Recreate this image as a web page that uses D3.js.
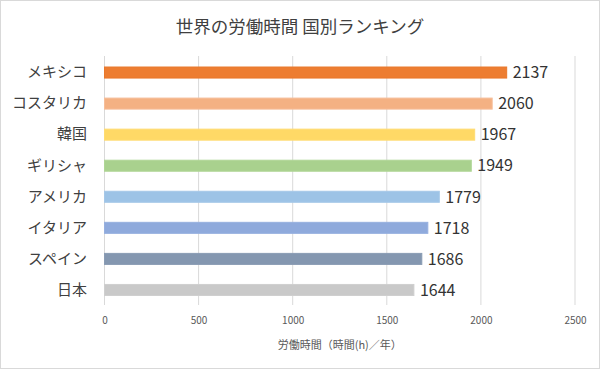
<!DOCTYPE html>
<html><head><meta charset="utf-8">
<script src="https://cdn.jsdelivr.net/npm/d3@7"></script>
<style>
body{margin:0;background:#fff;}
svg{display:block;font-family:"Noto Sans CJK JP","Noto Sans",sans-serif;}
</style></head>
<body><svg id="c" width="600" height="369"></svg>
<script>
const categories = ["メキシコ","コスタリカ","韓国","ギリシャ","アメリカ","イタリア","スペイン","日本"];
const values = [2137, 2060, 1967, 1949, 1779, 1718, 1686, 1644];
const colors = ["#ED7D31","#F4B183","#FFD966","#A9D18E","#9DC3E6","#8FAADC","#8497B0","#C9C9C9"];
const strokes = ["#E9782B","#F6BE9A","#FFDC72","#B0D697","#A6C8E8","#97B0DF","#8A9CB4","#CFCFCF"];
const xTicks = [0, 500, 1000, 1500, 2000, 2500];
const title = "世界の労働時間 国別ランキング";
const xTitle = "労働時間（時間(h)／年）";

const svg = d3.select("#c");
svg.append("rect").attr("x",0.5).attr("y",0.5).attr("width",599).attr("height",368)
  .attr("fill","#fff").attr("stroke","#D9D9D9");

const x = d3.scaleLinear().domain([0,2500]).range([104.5,575]);
const y = d3.scaleBand().domain(categories).range([57,305.5]).paddingInner(0.645).paddingOuter(0.3225);

svg.append("g").selectAll("line").data(xTicks).join("line")
  .attr("x1",d=>x(d)).attr("x2",d=>x(d)).attr("y1",56).attr("y2",305)
  .attr("stroke","#D9D9D9").attr("stroke-width",1);

const xa = svg.append("g").attr("transform","translate(0,305)")
  .call(d3.axisBottom(x).tickValues(xTicks).tickSize(0).tickPadding(12).tickFormat(d3.format("d")));
xa.select(".domain").remove();
xa.selectAll("text").attr("fill","#595959").attr("font-size",10).attr("font-family","'Noto Sans CJK JP',sans-serif");

const ya = svg.append("g").attr("transform","translate(89,0)")
  .call(d3.axisLeft(y).tickSize(0).tickPadding(2));
ya.select(".domain").remove();
ya.selectAll("text").attr("fill","#404040").attr("font-size",15).attr("font-family","'Noto Sans CJK JP',sans-serif");

svg.append("g").selectAll("rect").data(categories).join("rect")
  .attr("x",x(0)).attr("y",d=>y(d))
  .attr("width",(d,i)=>x(values[i])-x(0)).attr("height",y.bandwidth())
  .attr("fill",(d,i)=>colors[i]).attr("stroke",(d,i)=>strokes[i]).attr("stroke-width",1);

svg.append("g").selectAll("text").data(categories).join("text")
  .attr("x",(d,i)=>x(values[i])+6).attr("y",d=>y(d)+y.bandwidth()/2)
  .attr("dy","0.36em").attr("fill","#333333").attr("font-size",16)
  .attr("font-family","'Noto Sans CJK JP','Noto Sans',sans-serif")
  .text((d,i)=>values[i]);

svg.append("text").attr("x",300).attr("y",33).attr("text-anchor","middle")
  .attr("fill","#404040").attr("font-size",17.5).text(title);

svg.append("text").attr("x",x(1250)).attr("y",349).attr("text-anchor","middle")
  .attr("fill","#595959").attr("font-size",11).text(xTitle);
</script></body></html>
